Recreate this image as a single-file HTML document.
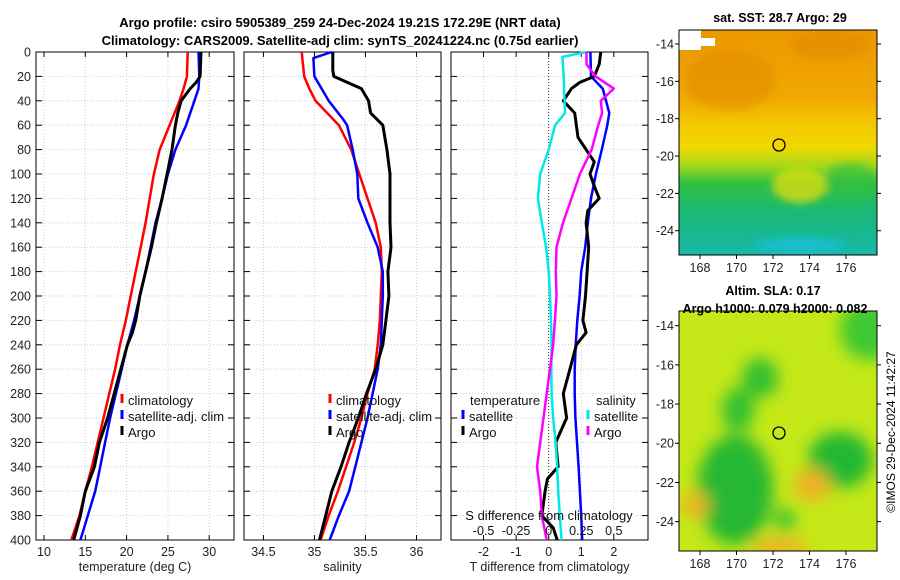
<!DOCTYPE html>
<html><head><meta charset="utf-8"><style>
body{margin:0;background:#fff;}
svg{display:block;font-family:"Liberation Sans","DejaVu Sans",sans-serif;}
</style></head><body>
<svg id="fig" width="900" height="580" viewBox="0 0 900 580">
<defs>
<linearGradient id="sstg" x1="0" y1="0" x2="0" y2="1">
<stop offset="0" stop-color="#ec9800"/><stop offset="0.3" stop-color="#f0a800"/><stop offset="0.42" stop-color="#f4c800"/>
<stop offset="0.52" stop-color="#f0d800"/><stop offset="0.6" stop-color="#a8d818"/><stop offset="0.68" stop-color="#30c040"/>
<stop offset="0.82" stop-color="#18b878"/><stop offset="1" stop-color="#18b8a8"/></linearGradient>
<filter id="blur"><feGaussianBlur stdDeviation="8"/></filter>
<filter id="blur2"><feGaussianBlur stdDeviation="4"/></filter>
<clipPath id="c1"><rect x="679" y="30" width="198" height="225"/></clipPath>
<clipPath id="c2"><rect x="679" y="311" width="198" height="240"/></clipPath>
</defs>
<text x="340" y="27" text-anchor="middle" font-size="13" font-weight="bold">Argo profile: csiro 5905389_259 24-Dec-2024 19.21S 172.29E (NRT data)</text>
<text x="340" y="45" text-anchor="middle" font-size="13" font-weight="bold">Climatology: CARS2009. Satellite-adj clim: synTS_20241224.nc (0.75d earlier)</text>
<g id="plots"></g>
<g>
<g clip-path="url(#c1)">
<rect x="679" y="30" width="198" height="225" fill="url(#sstg)"/>
<g filter="url(#blur2)">
<ellipse cx="730" cy="80" rx="45" ry="30" fill="#e08800" opacity="0.5"/>
<ellipse cx="830" cy="45" rx="40" ry="15" fill="#e08800" opacity="0.5"/>
<ellipse cx="800" cy="185" rx="28" ry="18" fill="#d8dc10" opacity="0.8"/>
<ellipse cx="850" cy="180" rx="25" ry="18" fill="#30c040" opacity="0.6"/>
<ellipse cx="800" cy="245" rx="45" ry="8" fill="#20c0e0" opacity="0.7"/>
</g>
<rect x="679" y="30" width="22" height="20" fill="#fff"/>
<rect x="700" y="38" width="15" height="8" fill="#fff"/>
</g>
<rect x="679" y="30" width="198" height="225" fill="none" stroke="#000"/>
<circle cx="779" cy="145" r="6" fill="none" stroke="#000" stroke-width="1.3"/>
<text x="780" y="22" text-anchor="middle" font-size="12.5" font-weight="bold">sat. SST: 28.7 Argo: 29</text>
</g>
<g>
<g clip-path="url(#c2)">
<rect x="679" y="311" width="198" height="240" fill="#c4e818"/>
<g filter="url(#blur)">
<ellipse cx="760" cy="378" rx="18" ry="20" fill="#30c030"/>
<ellipse cx="738" cy="410" rx="16" ry="22" fill="#30c030"/>
<ellipse cx="840" cy="460" rx="32" ry="28" fill="#20b830"/>
<ellipse cx="735" cy="490" rx="38" ry="55" fill="#28b830"/>
<ellipse cx="870" cy="330" rx="30" ry="30" fill="#40c830"/>
<ellipse cx="812" cy="485" rx="18" ry="16" fill="#f0b020"/>
<ellipse cx="780" cy="548" rx="28" ry="10" fill="#f0b020"/>
<ellipse cx="695" cy="505" rx="14" ry="12" fill="#f0b020"/>
<ellipse cx="785" cy="520" rx="10" ry="12" fill="#30c030"/>
</g></g>
<rect x="679" y="311" width="198" height="240" fill="none" stroke="#000"/>
<circle cx="779" cy="433" r="6" fill="none" stroke="#000" stroke-width="1.3"/>
<text x="773" y="295" text-anchor="middle" font-size="12.5" font-weight="bold">Altim. SLA: 0.17</text>
<text x="775" y="313" text-anchor="middle" font-size="12.5" font-weight="bold">Argo h1000: 0.079 h2000: 0.082</text>
</g>
<text transform="translate(895,432) rotate(-90)" text-anchor="middle" font-size="12">©IMOS 29-Dec-2024 11:42:27</text>
</svg>
<script>
const depthTicks=[0,20,40,60,80,100,120,140,160,180,200,220,240,260,280,300,320,340,360,380,400];
const tDepth=[0,20,30,40,60,80,100,120,140,160,180,200,220,240,260,280,300,320,340,360,380,400];
const tempClim=[27.4,27.3,26.9,26.4,25.2,24.0,23.3,22.8,22.3,21.7,21.1,20.5,19.9,19.2,18.6,17.9,17.2,16.5,15.8,15.0,14.3,13.3];
const tempSat=[28.7,28.8,28.7,28.2,27.2,25.9,25.0,24.3,23.5,22.9,22.3,21.6,20.9,20.1,19.4,18.7,18.0,17.4,16.8,16.2,15.3,14.4];
const aDepth=[0,20,25,30,40,50,60,80,100,120,140,160,180,200,220,230,240,260,280,300,320,340,360,380,400];
const tempArgo=[29.0,28.9,28.4,27.7,26.6,26.2,25.9,25.5,24.9,24.3,23.6,23.0,22.3,21.6,21.1,20.7,20.1,19.3,18.5,17.7,16.7,16.1,15.0,14.4,13.6];
const salClim=[34.875,34.9,34.95,35.01,35.24,35.36,35.44,35.52,35.6,35.65,35.66,35.65,35.64,35.62,35.59,35.52,35.46,35.39,35.31,35.23,35.14,35.06];
const sDepthSat=[0,5,20,40,55,60,80,100,120,140,160,180,200,220,240,260,280,300,320,340,360,380,400];
const salSat=[35.17,34.99,35.0,35.14,35.28,35.32,35.375,35.42,35.43,35.52,35.62,35.67,35.67,35.66,35.65,35.62,35.57,35.52,35.46,35.4,35.34,35.24,35.15];
const sDepthArgo=[0,15,20,30,40,50,60,80,100,120,140,160,180,200,220,240,260,280,300,320,340,360,380,400];
const salArgo=[35.18,35.18,35.19,35.46,35.53,35.55,35.67,35.71,35.74,35.74,35.74,35.75,35.72,35.73,35.7,35.67,35.6,35.51,35.43,35.34,35.26,35.17,35.11,35.05];
const dtDepthSat=[0,20,30,50,60,80,100,120,140,160,180,200,220,240,260,280,300,320,340,360,380,400];
const dTempSat=[1.28,1.3,1.66,1.86,1.8,1.63,1.45,1.3,1.2,1.12,1.0,0.95,0.88,0.83,0.8,0.8,0.82,0.87,0.92,0.96,1.0,1.03];
const dtDepthArgo=[0,10,20,25,30,40,50,70,80,90,100,110,120,130,140,160,180,200,220,230,240,260,280,300,320,340,350,360,380,390,400];
const dTempArgo=[1.6,1.55,1.4,0.95,0.7,0.45,0.8,0.9,1.15,1.4,1.27,1.4,1.55,1.2,1.15,1.23,1.18,1.13,1.05,1.15,0.85,0.65,0.45,0.55,0.22,0.29,-0.04,-0.11,-0.21,0.14,0.26];
const dsDepthSat=[0,4,20,50,60,80,100,120,140,160,180,200,220,240,260,280,300,320,340,360,380,400];
const dSalSat=[0.29,0.105,0.115,0.125,0.05,0,-0.065,-0.083,-0.053,-0.02,0,0.01,0.018,0.022,0.02,0.022,0.035,0.053,0.065,0.073,0.085,0.098];
const dsDepthArgo=[0,10,20,30,40,50,60,80,100,120,140,160,180,200,220,240,260,280,300,320,340,360,380,400];
const dSalArgo=[0.29,0.29,0.36,0.5,0.4,0.41,0.38,0.33,0.24,0.175,0.11,0.06,0.055,0.06,0.048,0.035,0.01,-0.015,-0.04,-0.065,-0.09,-0.065,-0.053,-0.015];
const tempTicks=[10,15,20,25,30];
const salTicks=[34.5,35,35.5,36];
const dtTicks=[-2,-1,0,1,2];
const dsTicks=[-0.5,-0.25,0,0.25,0.5];
const dsTickLabels=["-0.5","-0.25","0","0.25","0.5"];

const NS="http://www.w3.org/2000/svg";
const root=document.getElementById('plots');
const Y0=52,Y1=540;
function yS(d){return Y0+(d/400)*(Y1-Y0);}
function mk(tag,attrs,parent){const e=document.createElementNS(NS,tag);for(const k in attrs)e.setAttribute(k,attrs[k]);(parent||root).appendChild(e);return e;}
function panel(name,x0,x1,lo,hi,ticks,xlabel,showY){
  const g=mk('g',{});
  
  
  const xS=v=>x0+(v-lo)/(hi-lo)*(x1-x0);
  ticks.forEach(t=>{mk('line',{x1:xS(t),x2:xS(t),y1:Y0,y2:Y1,stroke:'#b8c4e0','stroke-width':0.8,'stroke-dasharray':'1,2'},g);
    mk('line',{x1:xS(t),x2:xS(t),y1:Y1,y2:Y1-5,stroke:'#000'},g);mk('line',{x1:xS(t),x2:xS(t),y1:Y0,y2:Y0+5,stroke:'#000'},g);
    const tx=mk('text',{x:xS(t),y:Y1+16,'text-anchor':'middle','font-size':12.5,fill:'#222'},g);tx.textContent=t;});
  depthTicks.forEach(d=>{mk('line',{x1:x0,x2:x1,y1:yS(d),y2:yS(d),stroke:'#b8c4e0','stroke-width':0.8,'stroke-dasharray':'1,2'},g);
    mk('line',{x1:x0,x2:x0+6,y1:yS(d),y2:yS(d),stroke:'#000'},g);mk('line',{x1:x1-6,x2:x1,y1:yS(d),y2:yS(d),stroke:'#000'},g);
    if(showY){const tx=mk('text',{x:x0-5,y:yS(d)+4.5,'text-anchor':'end','font-size':12.5,fill:'#222'},g);tx.textContent=d;}});
  mk('rect',{x:x0,y:Y0,width:x1-x0,height:Y1-Y0,fill:'none',stroke:'#000','stroke-width':1},g);
  const xl=mk('text',{x:(x0+x1)/2,y:571,'text-anchor':'middle','font-size':12.5,fill:'#222'},g);xl.textContent=xlabel;
  return {g,xS};
}
function line(p,depths,vals,color,w,name,scale){
  const pts=depths.map((d,i)=>p.xS(vals[i]*(scale||1)).toFixed(1)+','+yS(d).toFixed(1)).join(' ');
  const l=mk('polyline',{points:pts,fill:'none',stroke:color,'stroke-width':w,'stroke-linejoin':'round'},p.g);
  
  
}
function legend(g,x,y,items){
  items.forEach((it,i)=>{mk('line',{x1:x,x2:x,y1:y+i*16-11,y2:y+i*16-2,stroke:it[0],'stroke-width':3},g);
    const t=mk('text',{x:x+6,y:y+i*16,'font-size':13,fill:'#111'},g);t.textContent=it[1];
    
    });
}
const p1=panel('temperature-panel',36,234,9.03,33.0,tempTicks,'temperature (deg C)',true);
line(p1,tDepth,tempClim,'#ff0000',2.5,'temp-climatology-line');
line(p1,tDepth,tempSat,'#0000ff',2.5,'temp-satellite-line');
line(p1,aDepth,tempArgo,'#000',3,'temp-argo-line');
legend(p1.g,122,405,[['#f00','climatology'],['#00f','satellite-adj. clim'],['#000','Argo']]);
const p2=panel('salinity-panel',244,441,34.31,36.24,salTicks,'salinity',false);
line(p2,tDepth,salClim,'#ff0000',2.5,'sal-climatology-line');
line(p2,sDepthSat,salSat,'#0000ff',2.5,'sal-satellite-line');
line(p2,sDepthArgo,salArgo,'#000',3,'sal-argo-line');
legend(p2.g,330,405,[['#f00','climatology'],['#00f','satellite-adj. clim'],['#000','Argo']]);
const p3=panel('difference-panel',451,648,-3.0,3.05,dtTicks,'T difference from climatology',false);
mk('line',{x1:p3.xS(0),x2:p3.xS(0),y1:Y0,y2:Y1,stroke:'#333','stroke-width':1,'stroke-dasharray':'1,2'},p3.g);
line(p3,dtDepthSat,dTempSat,'#0000ff',2.5,'dtemp-satellite-line');
line(p3,dtDepthArgo,dTempArgo,'#000',3,'dtemp-argo-line');
line(p3,dsDepthSat,dSalSat,'#00e8e8',2.5,'dsal-satellite-line',4);
line(p3,dsDepthArgo,dSalArgo,'#ff00ff',2.5,'dsal-argo-line',4);
const tl=mk('text',{x:470,y:405,'font-size':13,fill:'#111'},p3.g);tl.textContent='temperature';
const sl=mk('text',{x:596,y:405,'font-size':13,fill:'#111'},p3.g);sl.textContent='salinity';
legend(p3.g,463,421,[['#00f','satellite'],['#000','Argo']]);
legend(p3.g,588,421,[['#00e8e8','satellite'],['#f0f','Argo']]);
const sdl=mk('text',{x:549,y:520,'text-anchor':'middle','font-size':13,fill:'#111'},p3.g);sdl.textContent='S difference from climatology';
dsTicks.forEach((t,i)=>{const tx=mk('text',{x:p3.xS(t*4),y:535,'text-anchor':'middle','font-size':12.5,fill:'#111'},p3.g);tx.textContent=dsTickLabels[i];});
function mapAxes(x0,x1,lon0,lon1,y0,y1,lat0,lat1){
  const g=mk('g',{});
  
  
  [168,170,172,174,176].forEach(l=>{const x=x0+(l-lon0)/(lon1-lon0)*(x1-x0);
    mk('line',{x1:x,x2:x,y1:y1,y2:y1+4,stroke:'#000'},g);
    const t=mk('text',{x:x,y:y1+17,'text-anchor':'middle','font-size':12.5,fill:'#222'},g);t.textContent=l;});
  [-14,-16,-18,-20,-22,-24].forEach(l=>{const y=y0+(l-lat0)/(lat1-lat0)*(y1-y0);
    mk('line',{x1:x0-4,x2:x0,y1:y,y2:y,stroke:'#000'},g);mk('line',{x1:x1,x2:x1+4,y1:y,y2:y,stroke:'#000'},g);
    const t=mk('text',{x:x0-5,y:y+4.5,'text-anchor':'end','font-size':12.5,fill:'#222'},g);t.textContent=l;});
}
mapAxes(679,877,166.85,177.7,30,255,-13.25,-25.3);
mapAxes(679,877,166.85,177.7,311,551,-13.25,-25.5);
</script>
</body></html>
